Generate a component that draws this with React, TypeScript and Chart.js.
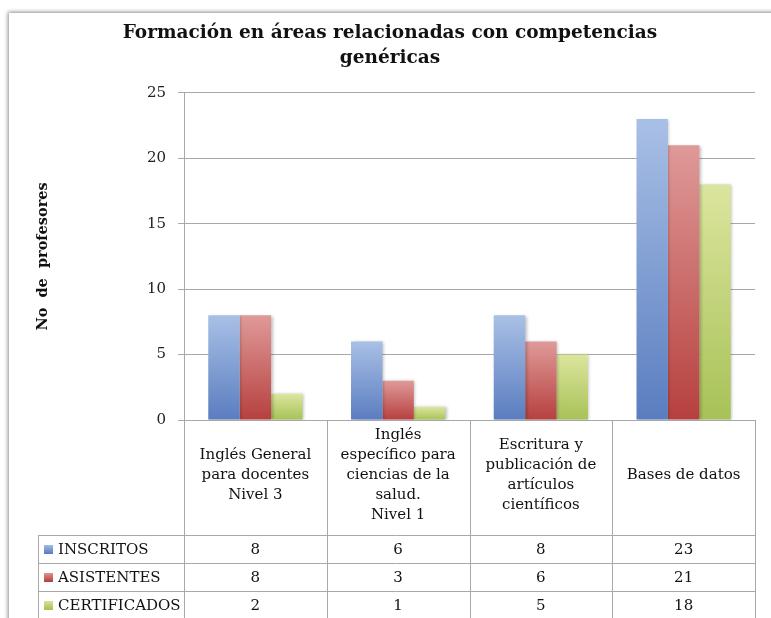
import React, { useEffect, useRef } from "react";
import { Chart, registerables } from "chart.js";

Chart.register(...registerables);

// ---------- data ----------
const categories: string[][] = [
  ["Inglés General", "para docentes", "Nivel 3"],
  ["Inglés", "específico para", "ciencias de la", "salud.", "Nivel 1"],
  ["Escritura y", "publicación de", "artículos", "científicos"],
  ["Bases de datos"],
];
const seriesNames = ["INSCRITOS", "ASISTENTES", "CERTIFICADOS"];
const inscritos = [8, 6, 8, 23];
const asistentes = [8, 3, 6, 21];
const certificados = [2, 1, 5, 18];
const yMin = 0;
const yMax = 25;
const yStep = 5;
const chartTitle = ["Formación en áreas relacionadas con competencias", "genéricas"];
const yTitle = "No  de  profesores";

// ---------- styles ----------
const FONT = "'DejaVu Serif', 'Liberation Serif', serif";
const palette = [
  { top: "#a9c0e6", bottom: "#5a7dc0" },
  { top: "#df9a99", bottom: "#b6403e" },
  { top: "#dce59e", bottom: "#a7c257" },
];
const LINE = "#a8a8a8";

const gradientFor = (top: string, bottom: string) => (ctx: any) => {
  const chart = ctx.chart;
  if (!chart.chartArea || ctx.type !== "data") return bottom;
  const y = chart.scales.y;
  const v = ctx.raw as number;
  const y0 = y.getPixelForValue(0);
  const y1 = y.getPixelForValue(v);
  if (!isFinite(y0) || !isFinite(y1) || y0 === y1) return bottom;
  const g = chart.ctx.createLinearGradient(0, y1, 0, y0);
  g.addColorStop(0, top);
  g.addColorStop(1, bottom);
  return g;
};

const shadowPlugin = {
  id: "barShadow",
  beforeDatasetsDraw(chart: any) {
    const c = chart.ctx;
    c.save();
    c.shadowColor = "rgba(0,0,0,0.25)";
    c.shadowBlur = 3;
    c.shadowOffsetX = 1.5;
    c.shadowOffsetY = 0.5;
  },
  afterDatasetsDraw(chart: any) {
    chart.ctx.restore();
  },
};

const tablePlugin = {
  id: "dataTable",
  afterDraw(chart: any) {
    const { ctx, chartArea } = chart;
    const x = chart.scales.x;
    const n = categories.length;
    const colW = (x.right - x.left) / n;
    const headerTop = chartArea.bottom;
    const headerBottom = headerTop + 115;
    const rowH = 28;
    const legendLeft = 38;
    const rows = chart.data.datasets.length;
    const tableBottom = headerBottom + rows * rowH;

    ctx.save();
    ctx.strokeStyle = LINE;
    ctx.lineWidth = 1;
    ctx.beginPath();
    ctx.moveTo(x.left, Math.round(headerTop) + 0.5);
    ctx.lineTo(x.right, Math.round(headerTop) + 0.5);
    for (let r = 0; r <= rows; r++) {
      const yy = Math.round(headerBottom + r * rowH) + 0.5;
      ctx.moveTo(legendLeft, yy);
      ctx.lineTo(x.right, yy);
    }
    for (let i = 0; i <= n; i++) {
      const xx = Math.round(x.left + i * colW) + 0.5;
      ctx.moveTo(xx, headerTop);
      ctx.lineTo(xx, tableBottom);
    }
    ctx.moveTo(legendLeft + 0.5, headerBottom);
    ctx.lineTo(legendLeft + 0.5, tableBottom);
    ctx.stroke();

    // header labels
    ctx.fillStyle = "#111";
    ctx.textAlign = "center";
    ctx.textBaseline = "middle";
    ctx.font = `15px ${FONT}`;
    const lh = 20;
    const hMid = (headerTop + headerBottom) / 2 - 2;
    chart.data.labels.forEach((lab: string[], i: number) => {
      const cx = x.getPixelForValue(i);
      const lines = Array.isArray(lab) ? lab : [lab];
      const start = hMid - ((lines.length - 1) * lh) / 2;
      lines.forEach((t, k) => ctx.fillText(t, cx, start + k * lh));
    });

    // rows
    chart.data.datasets.forEach((ds: any, r: number) => {
      const cy = headerBottom + r * rowH + rowH / 2;
      const p = palette[r];
      const g = ctx.createLinearGradient(0, cy - 4.5, 0, cy + 4.5);
      g.addColorStop(0, p.top);
      g.addColorStop(1, p.bottom);
      ctx.fillStyle = g;
      ctx.fillRect(44, Math.round(cy - 4.5), 9, 9);
      ctx.fillStyle = "#111";
      ctx.textAlign = "left";
      ctx.fillText(ds.label, 58, cy + 1);
      ctx.textAlign = "center";
      ds.data.forEach((v: number, i: number) => {
        ctx.fillText(String(v), x.getPixelForValue(i), cy + 1);
      });
    });
    ctx.restore();
  },
};

export default function App() {
  const ref = useRef<HTMLCanvasElement>(null);

  useEffect(() => {
    if (!ref.current) return;
    const series = [inscritos, asistentes, certificados];
    const chart = new Chart(ref.current, {
      type: "bar",
      data: {
        labels: categories as any,
        datasets: series.map((d, i) => ({
          label: seriesNames[i],
          data: d,
          backgroundColor: gradientFor(palette[i].top, palette[i].bottom) as any,
          borderWidth: 0,
          categoryPercentage: 0.66,
          barPercentage: 1.0,
        })),
      },
      options: {
        responsive: false,
        animation: false,
        layout: { padding: { top: 0, right: 16, bottom: 198, left: 25 } },
        plugins: {
          legend: { display: false },
          tooltip: { enabled: false },
          title: {
            display: true,
            text: chartTitle,
            color: "#111",
            font: { family: FONT, size: 18.5, weight: "bold", lineHeight: 1.35 },
            padding: { top: 21, bottom: 22 },
          },
        },
        scales: {
          x: {
            ticks: { display: false },
            grid: { display: false },
            border: { display: false },
            afterFit: (s: any) => {
              s.height = 0;
            },
          },
          y: {
            min: yMin,
            max: yMax,
            ticks: {
              stepSize: yStep,
              color: "#222",
              padding: 12,
              font: { family: FONT, size: 15 },
            },
            grid: { color: LINE, tickLength: 6 },
            border: { color: LINE },
            title: {
              display: true,
              text: yTitle,
              color: "#111",
              font: { family: FONT, size: 14.5, weight: "bold" },
              padding: { top: 10, bottom: 0 },
            },
            afterFit: (s: any) => {
              s.width = 159;
            },
          },
        },
      },
      plugins: [shadowPlugin, tablePlugin],
    });
    return () => chart.destroy();
  }, []);

  return (
    <div
      style={{
        position: "fixed",
        left: 0,
        top: 0,
        width: 771,
        height: 618,
        overflow: "hidden",
        background: "#fff",
      }}
    >
      <div
        style={{
          position: "absolute",
          left: 9,
          top: 13,
          width: 820,
          height: 700,
          background: "#fff",
          boxShadow: "0 0 4px 1px rgba(0,0,0,0.45)",
        }}
      />
      <canvas
        ref={ref}
        width={771}
        height={618}
        style={{ position: "absolute", left: 0, top: 0, display: "block" }}
      />
    </div>
  );
}
